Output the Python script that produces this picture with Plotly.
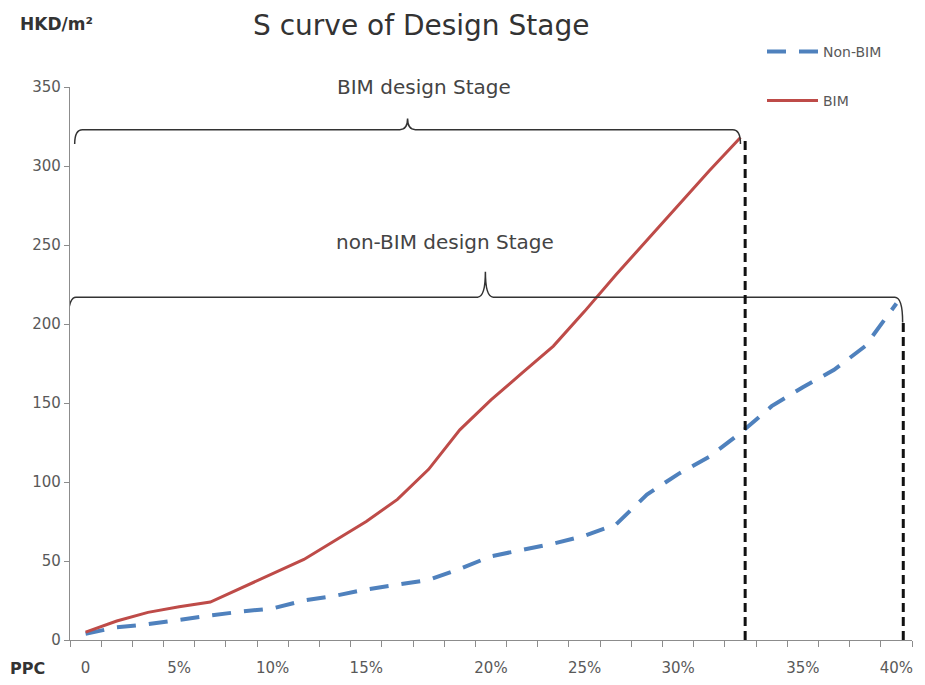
import plotly.graph_objects as go

# ---- data ----
ppc_tick_pos = [0, 3, 6, 9, 13, 16, 19, 23, 26]
ppc_tick_text = ["0", "5%", "10%", "15%", "20%", "25%", "30%", "35%", "40%"]

bim = [5, 12, 17.5, 21, 24, 33, 42, 51, 63, 75, 89, 108, 133, 152, 169,
       186, 208, 231, 253, 275, 297, 318]
non_bim = [4, 8, 10, 13, 15.5, 18, 20, 25, 28, 32, 35, 38, 45, 53, 57, 61,
           66, 73, 92, 105, 116, 131, 148, 160, 171, 186, 213]

bim_x = list(range(len(bim)))
non_bim_x = list(range(len(non_bim)))

W, H = 925, 685
L, R, T, B = 70, 13, 87, 45
PW, PH = W - L - R, H - T - B


def px(xp):
    return (xp - L) / PW


def py(yp):
    return (H - B - yp) / PH


FONT = "'DejaVu Sans', sans-serif"
GREY = "#595959"
RED = "#BE4B48"
BLUE = "#4F81BD"

fig = go.Figure()
fig.add_trace(go.Scatter(
    x=non_bim_x, y=non_bim, mode="lines", name="Non-BIM",
    line=dict(color=BLUE, width=4, dash="19px,13px"), legend="legend"))
fig.add_trace(go.Scatter(
    x=bim_x, y=bim, mode="lines", name="BIM",
    line=dict(color=RED, width=3), legend="legend2"))


def brace(x0, x1, yh, yend, ytip, d=0.3):
    mid = (x0 + x1) / 2
    return (f"M {x0},{yend} Q {x0},{yh} {x0 + d},{yh} L {mid - d},{yh} "
            f"Q {mid},{yh} {mid},{ytip} Q {mid},{yh} {mid + d},{yh} "
            f"L {x1 - d},{yh} Q {x1},{yh} {x1},{yend}")


shapes = []
# BIM design stage brace
shapes.append(dict(type="path", xref="x", yref="y",
                   path=brace(-0.35, bim_x[-1], 323, 314, 330, 0.25),
                   line=dict(color="#333333", width=1.5)))
# non-BIM design stage brace
shapes.append(dict(type="path", xref="x", yref="y",
                   path=brace(-0.56, non_bim_x[-1] + 0.2, 217, 201, 233, 0.25),
                   line=dict(color="#333333", width=1.5)))
# vertical dashed markers
shapes.append(dict(type="line", xref="x", yref="y",
                   x0=bim_x[-1] + 0.15, x1=bim_x[-1] + 0.15, y0=0, y1=bim[-1],
                   line=dict(color="#111111", width=3, dash="9px,5px")))
shapes.append(dict(type="line", xref="x", yref="y",
                   x0=non_bim_x[-1] + 0.22, x1=non_bim_x[-1] + 0.22, y0=0, y1=201,
                   line=dict(color="#111111", width=3, dash="9px,5px")))


def label(text, xp, yp, size, color="#444444"):
    return dict(text=text, x=px(xp), y=py(yp), xref="paper", yref="paper",
                xanchor="center", yanchor="middle", showarrow=False,
                font=dict(size=size, color=color, family=FONT))


annotations = [
    label("S curve of Design Stage", 421, 25, 28, "#333333"),
    label("<b>HKD/m²</b>", 56, 24, 17, "#333333"),
    label("<b>PPC</b>", 27, 668, 16, "#333333"),
    label("BIM design Stage", 424, 87, 20),
    label("non-BIM design Stage", 445, 242, 20),
]

fig.update_layout(
    width=W, height=H,
    margin=dict(l=L, r=R, t=T, b=B),
    paper_bgcolor="white", plot_bgcolor="white",
    font=dict(family=FONT, size=15, color=GREY),
    shapes=shapes, annotations=annotations,
    legend=dict(x=px(762), y=py(52), xanchor="left", yanchor="middle",
                itemwidth=51, font=dict(size=14, color=GREY, family=FONT),
                bgcolor="rgba(0,0,0,0)"),
    legend2=dict(x=px(762), y=py(101), xanchor="left", yanchor="middle",
                 itemwidth=51, font=dict(size=14, color=GREY, family=FONT),
                 bgcolor="rgba(0,0,0,0)"),
    showlegend=True,
)
fig.update_xaxes(
    range=[-0.5, len(non_bim) - 0.5], showgrid=False, zeroline=False,
    showline=True, linecolor="#8c8c8c", linewidth=1.3, automargin=False,
    tickmode="array", tickvals=ppc_tick_pos, ticktext=ppc_tick_text,
    ticks="", ticklabelstandoff=14,
    tickfont=dict(size=15, color=GREY, family=FONT),
    minor=dict(tick0=-0.5, dtick=1, ticks="outside", ticklen=6,
               tickcolor="#8c8c8c", showgrid=False),
)
fig.update_yaxes(
    range=[0, 350], dtick=50, showgrid=False, zeroline=False,
    showline=True, linecolor="#8c8c8c", linewidth=1.3, automargin=False,
    ticks="outside", ticklen=5, tickcolor="#8c8c8c",
    tickfont=dict(size=15, color=GREY, family=FONT),
)

fig.write_html("out.html")
